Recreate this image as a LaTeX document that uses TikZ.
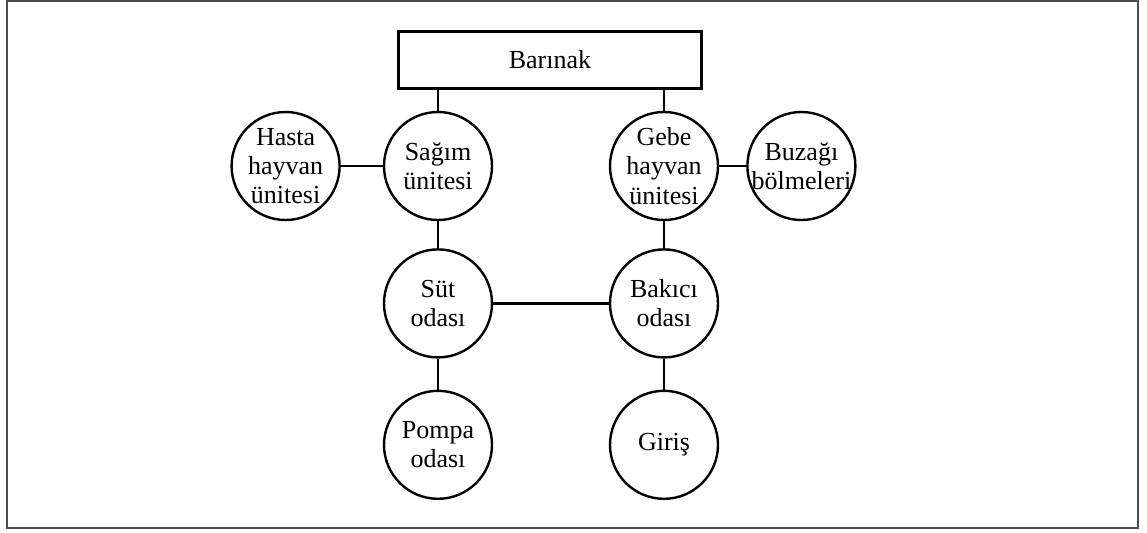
\documentclass[tikz,border=0pt]{standalone}
\usepackage{fontspec}
\setmainfont{Liberation Serif}
\usetikzlibrary{positioning}
\tikzset{
unit/.style={
  circle,
  draw=black,
  line width=1.2pt,
  minimum size=54pt,
  inner sep=-2pt,
  align=center,
  font=\fontsize{13}{14.6}\selectfont
  },
hall/.style={
  rectangle,
  draw=black,
  line width=1.2pt,
  minimum width=151.5pt,
  minimum height=28.5pt,
  font=\fontsize{13}{14.6}\selectfont
  },
link/.style={line width=1.2pt}
}

\begin{document}
\begin{tikzpicture}[x=0.5pt,y=-0.5pt]
\useasboundingbox (0,0) rectangle (1147,532);
\draw[black!70,line width=1pt] (7,1) rectangle (1138,528);

\node[hall] (bar) at (550,60) {Barınak};

\node[unit] (sag) at (438,166) {Sağım\\ünitesi};
\node[unit] (gebe) at (664,166) {Gebe\\hayvan\\ünitesi};
\node[unit,left=21pt of sag] (hasta) {Hasta\\hayvan\\ünitesi};
\node[unit,right=13.5pt of gebe] (buz) {Buzağı\\bölmeleri};

\node[unit,below=13.5pt of sag] (sut) {Süt\\odası};
\node[unit,below=13.5pt of gebe] (bak) {Bakıcı\\odası};
\node[unit,below=15.5pt of sut] (pompa) {Pompa\\odası};
\node[unit,below=15.5pt of bak] (giris) {Giriş};

\draw[link] (sag.north) -- (sag.north |- bar.south);
\draw[link] (gebe.north) -- (gebe.north |- bar.south);
\draw[link] (hasta) -- (sag);
\draw[link] (gebe) -- (buz);
\draw[link] (sag) -- (sut);
\draw[link] (gebe) -- (bak);
\draw[link] (sut) -- (bak);
\draw[link] (sut) -- (pompa);
\draw[link] (bak) -- (giris);

\end{tikzpicture}
\end{document}
